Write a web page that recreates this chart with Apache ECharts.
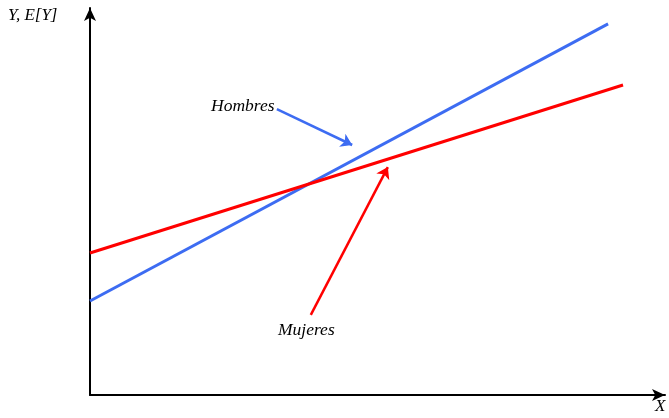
<!DOCTYPE html>
<html>
<head>
<meta charset="utf-8">
<script src="https://cdn.jsdelivr.net/npm/echarts@6/dist/echarts.min.js"></script>
<style>
  html, body { margin: 0; padding: 0; background: #fff; }
  #chart { width: 669px; height: 418px; }
</style>
</head>
<body>
<div id="chart"></div>
<script>
// recta de cada grupo (x en 0..100, y en 0..100)
const hombresX = [0, 90.1]
const hombresY = [24.3, 95.9]
const mujeresX = [0, 92.7]
const mujeresY = [36.7, 80.1]

// flechas de las etiquetas: [inicio, fin]
const flechaHombres = [[32.5, 73.9], [45.6, 64.6]]
const flechaMujeres = [[38.4, 20.7], [51.8, 58.9]]

const azul = '#3d6cf2'
const rojo = '#ff0000'
const serif = '"Liberation Serif", "DejaVu Serif", serif'

const chart = echarts.init(document.getElementById('chart'))

const axisBase = {
  type: 'value', min: 0, max: 100,
  splitLine: { show: false },
  axisTick: { show: false },
  axisLabel: { show: false },
  axisLine: {
    show: true, onZero: false,
    lineStyle: { color: '#000', width: 2 },
    symbol: ['none', 'arrow'], symbolSize: [9, 13]
  }
}

chart.setOption({
  animation: false,
  grid: { left: 90, right: 4, top: 8, bottom: 23 },
  xAxis: axisBase,
  yAxis: axisBase,
  series: [
    {
      type: 'line', symbol: 'none',
      data: hombresX.map((x, i) => [x, hombresY[i]]),
      lineStyle: { color: azul, width: 3 }
    },
    {
      type: 'line', symbol: 'none',
      data: mujeresX.map((x, i) => [x, mujeresY[i]]),
      lineStyle: { color: rojo, width: 3 }
    },
    {
      type: 'lines', coordinateSystem: 'cartesian2d',
      symbol: ['none', 'arrow'], symbolSize: 11,
      lineStyle: { color: azul, width: 2.5, opacity: 1 },
      data: [{ coords: flechaHombres }]
    },
    {
      type: 'lines', coordinateSystem: 'cartesian2d',
      symbol: ['none', 'arrow'], symbolSize: 11,
      lineStyle: { color: rojo, width: 2.5, opacity: 1 },
      data: [{ coords: flechaMujeres }]
    }
  ],
  graphic: [
    { type: 'text', left: 8, top: 7,
      style: { text: 'Y, E[Y]', font: 'italic 17px ' + serif, fill: '#000' } },
    { type: 'text', left: 655, top: 398,
      style: { text: 'X', font: 'italic 17px ' + serif, fill: '#000' } },
    { type: 'text', left: 211, top: 97,
      style: { text: 'Hombres', font: 'italic 17.5px ' + serif, fill: '#000' } },
    { type: 'text', left: 278, top: 321,
      style: { text: 'Mujeres', font: 'italic 17.5px ' + serif, fill: '#000' } }
  ]
})
</script>
</body>
</html>
